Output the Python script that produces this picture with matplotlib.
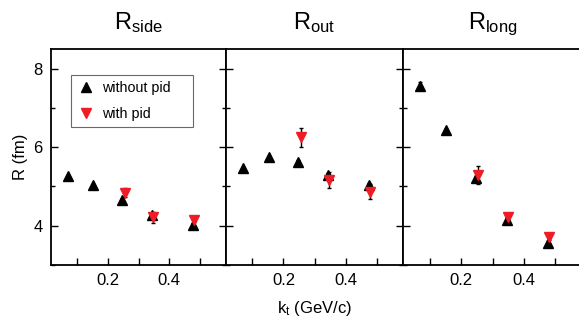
import matplotlib
matplotlib.use("Agg")
import matplotlib.pyplot as plt
from matplotlib.ticker import MultipleLocator, FixedLocator, NullFormatter
from matplotlib.lines import Line2D

plt.rcParams['font.family'] = ['Liberation Sans', 'DejaVu Sans']
plt.rcParams['mathtext.fontset'] = 'custom'
plt.rcParams['mathtext.rm'] = 'Liberation Sans'
plt.rcParams['mathtext.it'] = 'Liberation Sans'

titles = ["side", "out", "long"]

# kt values (GeV/c)
kt_nopid = [0.07, 0.152, 0.247, 0.345, 0.477]
kt_pid = [0.255, 0.348, 0.48]

# radii without pid
r_side = [5.27, 5.04, 4.65, 4.28, 4.03]
r_out = [5.47, 5.75, 5.63, 5.29, 5.03]
r_long = [7.57, 6.43, 5.22, 4.15, 3.57]
e_side = [0.03, 0.03, 0.04, 0.05, 0.05]
e_out = [0.03, 0.03, 0.04, 0.05, 0.05]
e_long = [0.1, 0.04, 0.05, 0.05, 0.05]

# radii with pid
rp_side = [4.84, 4.21, 4.15]
rp_out = [6.25, 5.16, 4.86]
rp_long = [5.29, 4.23, 3.72]
ep_side = [0.12, 0.15, 0.06]
ep_out = [0.24, 0.2, 0.19]
ep_long = [0.24, 0.08, 0.08]

nopid = [(r_side, e_side), (r_out, e_out), (r_long, e_long)]
pid = [(rp_side, ep_side), (rp_out, ep_out), (rp_long, ep_long)]

red = '#ee1c24'

fig = plt.figure(figsize=(5.79, 3.22), dpi=100)
W, H = 579.0, 322.0
edges = [51, 226, 403, 582]
top, bottom = 49, 265

axes = []
for i in range(3):
    ax = fig.add_axes([edges[i] / W, 1 - bottom / H,
                       (edges[i + 1] - edges[i]) / W, (bottom - top) / H])
    axes.append(ax)
    r, e = nopid[i]
    ax.errorbar(kt_nopid, r, yerr=e, fmt='^', color='black', ms=7,
                elinewidth=1, capsize=1.5, zorder=3)
    rp, ep = pid[i]
    ax.errorbar(kt_pid, rp, yerr=ep, fmt='v', color=red, ms=7,
                ecolor='black', elinewidth=1, capsize=1.5, zorder=4)
    ax.set_xlim(0.015, 0.585)
    ax.set_ylim(3, 8.5)
    ax.xaxis.set_major_locator(FixedLocator([0.2, 0.4]))
    ax.xaxis.set_minor_locator(FixedLocator([0.1, 0.3, 0.5]))
    ax.yaxis.set_major_locator(MultipleLocator(2))
    ax.yaxis.set_minor_locator(MultipleLocator(1))
    ax.tick_params(which='both', direction='in', right=(i < 2), top=False,
                   labelsize=12, width=1)
    ax.tick_params(which='major', length=5, pad=6)
    ax.tick_params(which='minor', length=3)
    ax.tick_params(axis='x', which='minor', length=5)
    for s in ax.spines.values():
        s.set_linewidth(1.3)
    if i == 2:
        ax.spines['right'].set_visible(False)
    if i > 0:
        ax.yaxis.set_major_formatter(NullFormatter())
    ax.set_title(r'R$_{\mathrm{%s}}$' % titles[i], fontsize=17, pad=14)

axes[0].set_ylabel('R (fm)', fontsize=12, labelpad=4)
axes[1].set_xlabel(r'k$_{\mathrm{t}}$ (GeV/c)', fontsize=12, labelpad=8)

handles = [Line2D([], [], ls='none', marker='^', color='black', ms=7),
           Line2D([], [], ls='none', marker='v', color=red, ms=7)]
leg = axes[0].legend(handles, ['without pid    ', 'with pid'],
                     loc='upper left', bbox_to_anchor=(0.114, 0.88),
                     borderaxespad=0,
                     fontsize=10.3, frameon=True, fancybox=False,
                     handletextpad=0.5, borderpad=0.45, labelspacing=0.8,
                     handlelength=1.2)
leg.get_frame().set_edgecolor('#444444')
leg.get_frame().set_linewidth(0.8)

fig.savefig('out.png', dpi=100)
